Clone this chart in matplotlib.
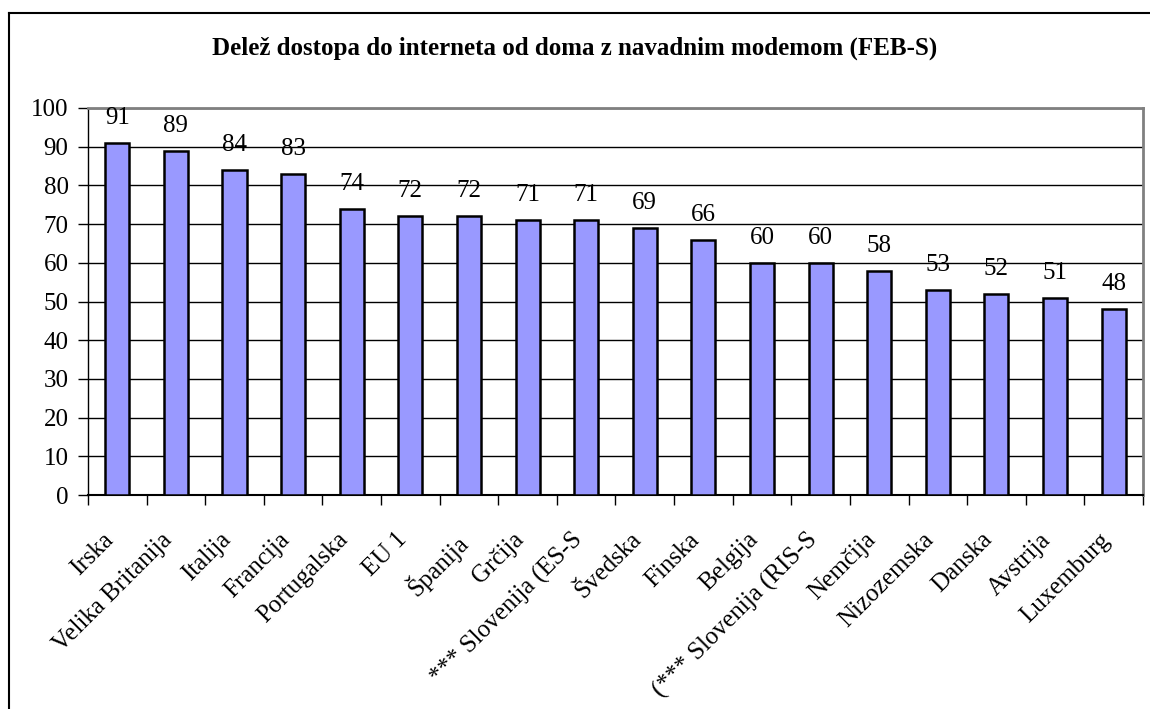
import matplotlib.pyplot as plt
from matplotlib.lines import Line2D
from matplotlib.transforms import ScaledTranslation

countries = ["Irska", "Velika Britanija", "Italija", "Francija", "Portugalska",
             "EU 1", "Španija", "Grčija", "*** Slovenija (ES-S", "Švedska",
             "Finska", "Belgija", "(*** Slovenija (RIS-S", "Nemčija",
             "Nizozemska", "Danska", "Avstrija", "Luxemburg"]
values = [91, 89, 84, 83, 74, 72, 72, 71, 71, 69, 66, 60, 60, 58, 53, 52, 51, 48]
yticks = list(range(0, 101, 10))

plt.rcParams["font.family"] = ["Liberation Serif", "DejaVu Serif"]

fig = plt.figure(figsize=(11.5, 7.09), dpi=100)
ax = fig.add_axes([0.0765, 0.3018, 0.9174, 0.5459])

x = list(range(len(values)))
ax.bar(x, values, width=0.41, color="#9999FF", edgecolor="black", linewidth=1.8, zorder=3)
for xi, v in zip(x, values):
    ax.annotate(str(v), (xi, v), xytext=(0, 10), textcoords="offset points",
                ha="center", va="bottom", fontsize=18)

ax.set_xlim(-0.5, len(values) - 0.5)
ax.set_ylim(0, 100)
ax.set_yticks(yticks)
ax.tick_params(axis="y", labelsize=18, length=7, width=1, direction="out", pad=7)
ax.yaxis.grid(True, color="black", linewidth=1, zorder=0)

ax.set_xticks(x)
ax.set_xticklabels(countries, rotation=45, ha="right", rotation_mode="anchor", fontsize=18)
ax.tick_params(axis="x", length=0, pad=12)
shift = ScaledTranslation(-0.15, -0.17, fig.dpi_scale_trans)
for lab in ax.get_xticklabels():
    lab.set_transform(lab.get_transform() + shift)
ax.set_xticks([i + 0.5 for i in range(-1, len(values))], minor=True)
ax.tick_params(axis="x", which="minor", length=7, width=1)

ax.spines["top"].set_color("#808080")
ax.spines["right"].set_color("#808080")
ax.spines["top"].set_linewidth(2)
ax.spines["right"].set_linewidth(2)
ax.spines["left"].set_linewidth(1)
ax.spines["bottom"].set_linewidth(1.5)

fig.text(0.5, 0.932, "Delež dostopa do interneta od doma z navadnim modemom (FEB-S)",
         ha="center", va="center", fontsize=18, fontweight="bold")

# outer chart border (left and top visible)
fig.add_artist(Line2D([0.0078, 0.0078], [0, 0.981], transform=fig.transFigure, color="black", lw=1.5))
fig.add_artist(Line2D([0.0078, 1], [0.981, 0.981], transform=fig.transFigure, color="black", lw=1.5))

fig.savefig("out.png", dpi=100)
